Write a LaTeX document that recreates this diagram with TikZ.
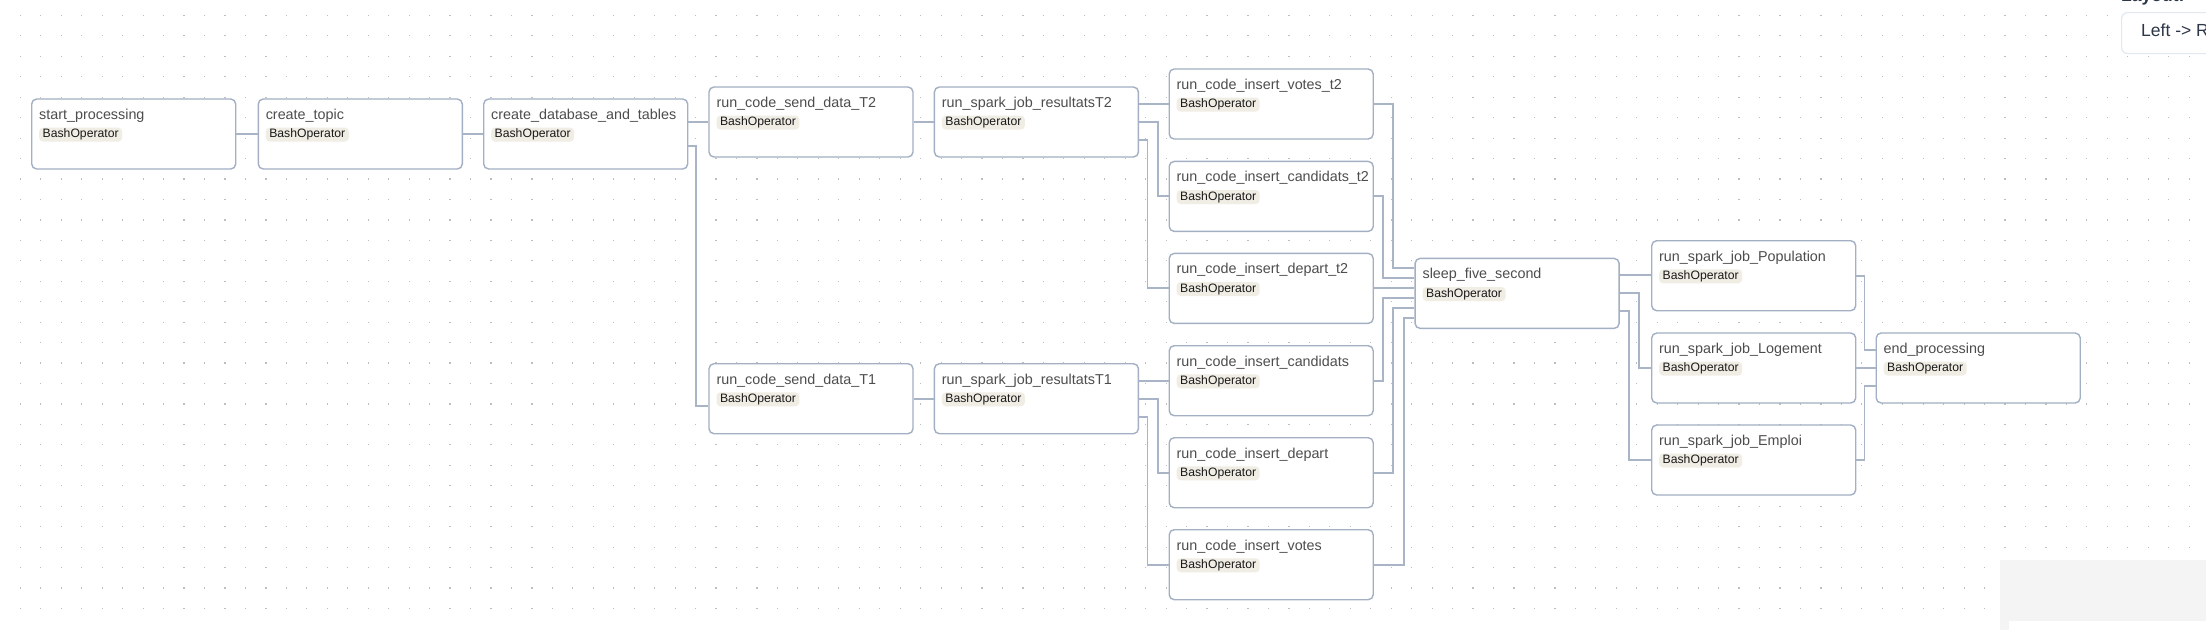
\documentclass[tikz,border=0pt]{standalone}
\usepackage{fontspec}
\setmainfont{Liberation Sans}
\usetikzlibrary{calc}
\definecolor{bordc}{HTML}{A3AFC2}
\definecolor{edgec}{HTML}{A9B4C7}
\definecolor{dotc}{HTML}{BDBDBD}
\definecolor{titlec}{HTML}{4D4D4D}
\definecolor{chipc}{HTML}{F0EDE4}
\definecolor{panelc}{HTML}{F4F4F4}
\definecolor{selc}{HTML}{E2E8F0}
\definecolor{darktext}{HTML}{2D3748}
\tikzset{
  taskbox/.style={draw=bordc, line width=1.4pt, fill=white, rounded corners=5pt,
    minimum width=204pt, minimum height=70pt, inner sep=0pt},
  tasktitle/.style={font=\fontsize{14.35}{16}\selectfont, text=titlec, inner sep=0pt},
  chip/.style={fill=chipc, rounded corners=4pt, font=\fontsize{12.2}{14}\selectfont,
    text=black!90, inner xsep=3.5pt, inner ysep=1pt, text height=9.3pt, text depth=2.7pt},
  edge/.style={draw=edgec, line width=1.9pt}
}
\newcommand{\taskat}[4]{%
  \node[taskbox, anchor=north west] (#1) at (#2,#3) {};
  \node[tasktitle, anchor=west] (#1-t) at ($(#1.north west)+(8,17.5)$) {#4};
  \node[chip, anchor=west] (#1-b) at ($(#1.north west)+(8,36.3)$) {BashOperator};
}
\begin{document}
\begin{tikzpicture}[x=1pt,y=-1pt]
\useasboundingbox (0,0) rectangle (2206,630);
\clip (0,0) rectangle (2206,630);
\fill[white] (0,0) rectangle (2206,630);
% dot grid
\foreach \i in {0,...,106}{
  \pgfmathsetmacro{\dx}{20.4+20.46*\i}
  \foreach \j in {0,...,29}{
    \pgfmathsetmacro{\dy}{15.4+20.45*\j}
    \fill[dotc] (\dx-0.6,\dy-0.6) rectangle (\dx+0.6,\dy+0.6);
  }
}
% bottom-right panel
\fill[panelc] (2000,560) rectangle (2206,630);
\fill[white] (2009,621) rectangle (2206,630);
% layout selector
\node[anchor=base west, inner sep=0pt, font=\bfseries\fontsize{17.5}{20}\selectfont, text=darktext] (laylbl) at (2121,1.5) {Layout:};
\node[anchor=north west, draw=selc, line width=1.2pt, fill=white, rounded corners=6pt,
  minimum width=160pt, minimum height=41pt, inner sep=0pt] (laybox) at (2121,12) {};
\node[anchor=west, inner sep=0pt, font=\fontsize{17.5}{20}\selectfont, text=darktext] (laytxt) at (2141,31.5) {Left -> Right};
% tasks
\taskat{sp}{31}{98.3}{start\_processing}
\taskat{ct}{257.6}{98.3}{create\_topic}
\taskat{cdb}{483}{98.3}{create\_database\_and\_tables}
\taskat{sdT2}{708.3}{86.3}{run\_code\_send\_data\_T2}
\taskat{sjT2}{933.7}{86.3}{run\_spark\_job\_resultatsT2}
\taskat{ivT2}{1168.5}{68.3}{run\_code\_insert\_votes\_t2}
\taskat{icT2}{1168.5}{160.7}{run\_code\_insert\_candidats\_t2}
\taskat{idT2}{1168.5}{252.7}{run\_code\_insert\_depart\_t2}
\taskat{sdT1}{708.3}{363}{run\_code\_send\_data\_T1}
\taskat{sjT1}{933.7}{363}{run\_spark\_job\_resultatsT1}
\taskat{ic}{1168.5}{345}{run\_code\_insert\_candidats}
\taskat{id}{1168.5}{437}{run\_code\_insert\_depart}
\taskat{iv}{1168.5}{529}{run\_code\_insert\_votes}
\taskat{sleep}{1414.4}{257.7}{sleep\_five\_second}
\taskat{pop}{1651}{240}{run\_spark\_job\_Population}
\taskat{log}{1651}{332.3}{run\_spark\_job\_Logement}
\taskat{emp}{1651}{424.3}{run\_spark\_job\_Emploi}
\taskat{endp}{1875.5}{332.3}{end\_processing}
% ports
\coordinate (cdbA) at ($(cdb.east)+(0,-12)$);
\coordinate (cdbB) at ($(cdb.east)+(0,12)$);
\coordinate (sjT2A) at ($(sjT2.east)+(0,-18)$);
\coordinate (sjT2C) at ($(sjT2.east)+(0,18)$);
\coordinate (sjT1A) at ($(sjT1.east)+(0,-18)$);
\coordinate (sjT1C) at ($(sjT1.east)+(0,18)$);
\coordinate (slA) at ($(sleep.east)+(0,-18)$);
\coordinate (slC) at ($(sleep.east)+(0,18)$);
% edges
\draw[edge] (sp.east) -- (sp.east -| ct.west);
\draw[edge] (ct.east) -- (ct.east -| cdb.west);
\draw[edge] (cdbA) -- (cdbA -| sdT2.west);
\draw[edge] (cdbB) -| ($(sdT1.west)+(-12,7)$) -- ($(sdT1.west)+(0,7)$);
\draw[edge] (sdT2.east) -- (sdT2.east -| sjT2.west);
\draw[edge] (sdT1.east) -- (sdT1.east -| sjT1.west);
\draw[edge] (sjT2A) -- (sjT2A -| ivT2.west);
\draw[edge] (sjT2.east) -| ($(icT2.west)+(-10.5,0)$) -- (icT2.west);
\draw[edge] (sjT2C) -| ($(idT2.west)+(-21,0)$) -- (idT2.west);
\draw[edge] (sjT1A) -- (sjT1A -| ic.west);
\draw[edge] (sjT1.east) -| ($(id.west)+(-10.5,0)$) -- (id.west);
\draw[edge] (sjT1C) -| ($(iv.west)+(-21,0)$) -- (iv.west);
\draw[edge] (ivT2.east) -| ($(sleep.west)+(-21,-25)$) -- ($(sleep.west)+(0,-25)$);
\draw[edge] (icT2.east) -| ($(sleep.west)+(-31,-15)$) -- ($(sleep.west)+(0,-15)$);
\draw[edge] (idT2.east) -- (idT2.east -| sleep.west);
\draw[edge] (ic.east) -| ($(sleep.west)+(-31,5)$) -- ($(sleep.west)+(0,5)$);
\draw[edge] (id.east) -| ($(sleep.west)+(-21,15)$) -- ($(sleep.west)+(0,15)$);
\draw[edge] (iv.east) -| ($(sleep.west)+(-10,25)$) -- ($(sleep.west)+(0,25)$);
\draw[edge] (slA) -- (slA -| pop.west);
\draw[edge] (sleep.east) -| ($(log.west)+(-12,0)$) -- (log.west);
\draw[edge] (slC) -| ($(emp.west)+(-22,0)$) -- (emp.west);
\draw[edge] (pop.east) -| ($(endp.west)+(-11,-18)$) -- ($(endp.west)+(0,-18)$);
\draw[edge] (log.east) -- (log.east -| endp.west);
\draw[edge] (emp.east) -| ($(endp.west)+(-11,18)$) -- ($(endp.west)+(0,18)$);
\end{tikzpicture}
\end{document}
